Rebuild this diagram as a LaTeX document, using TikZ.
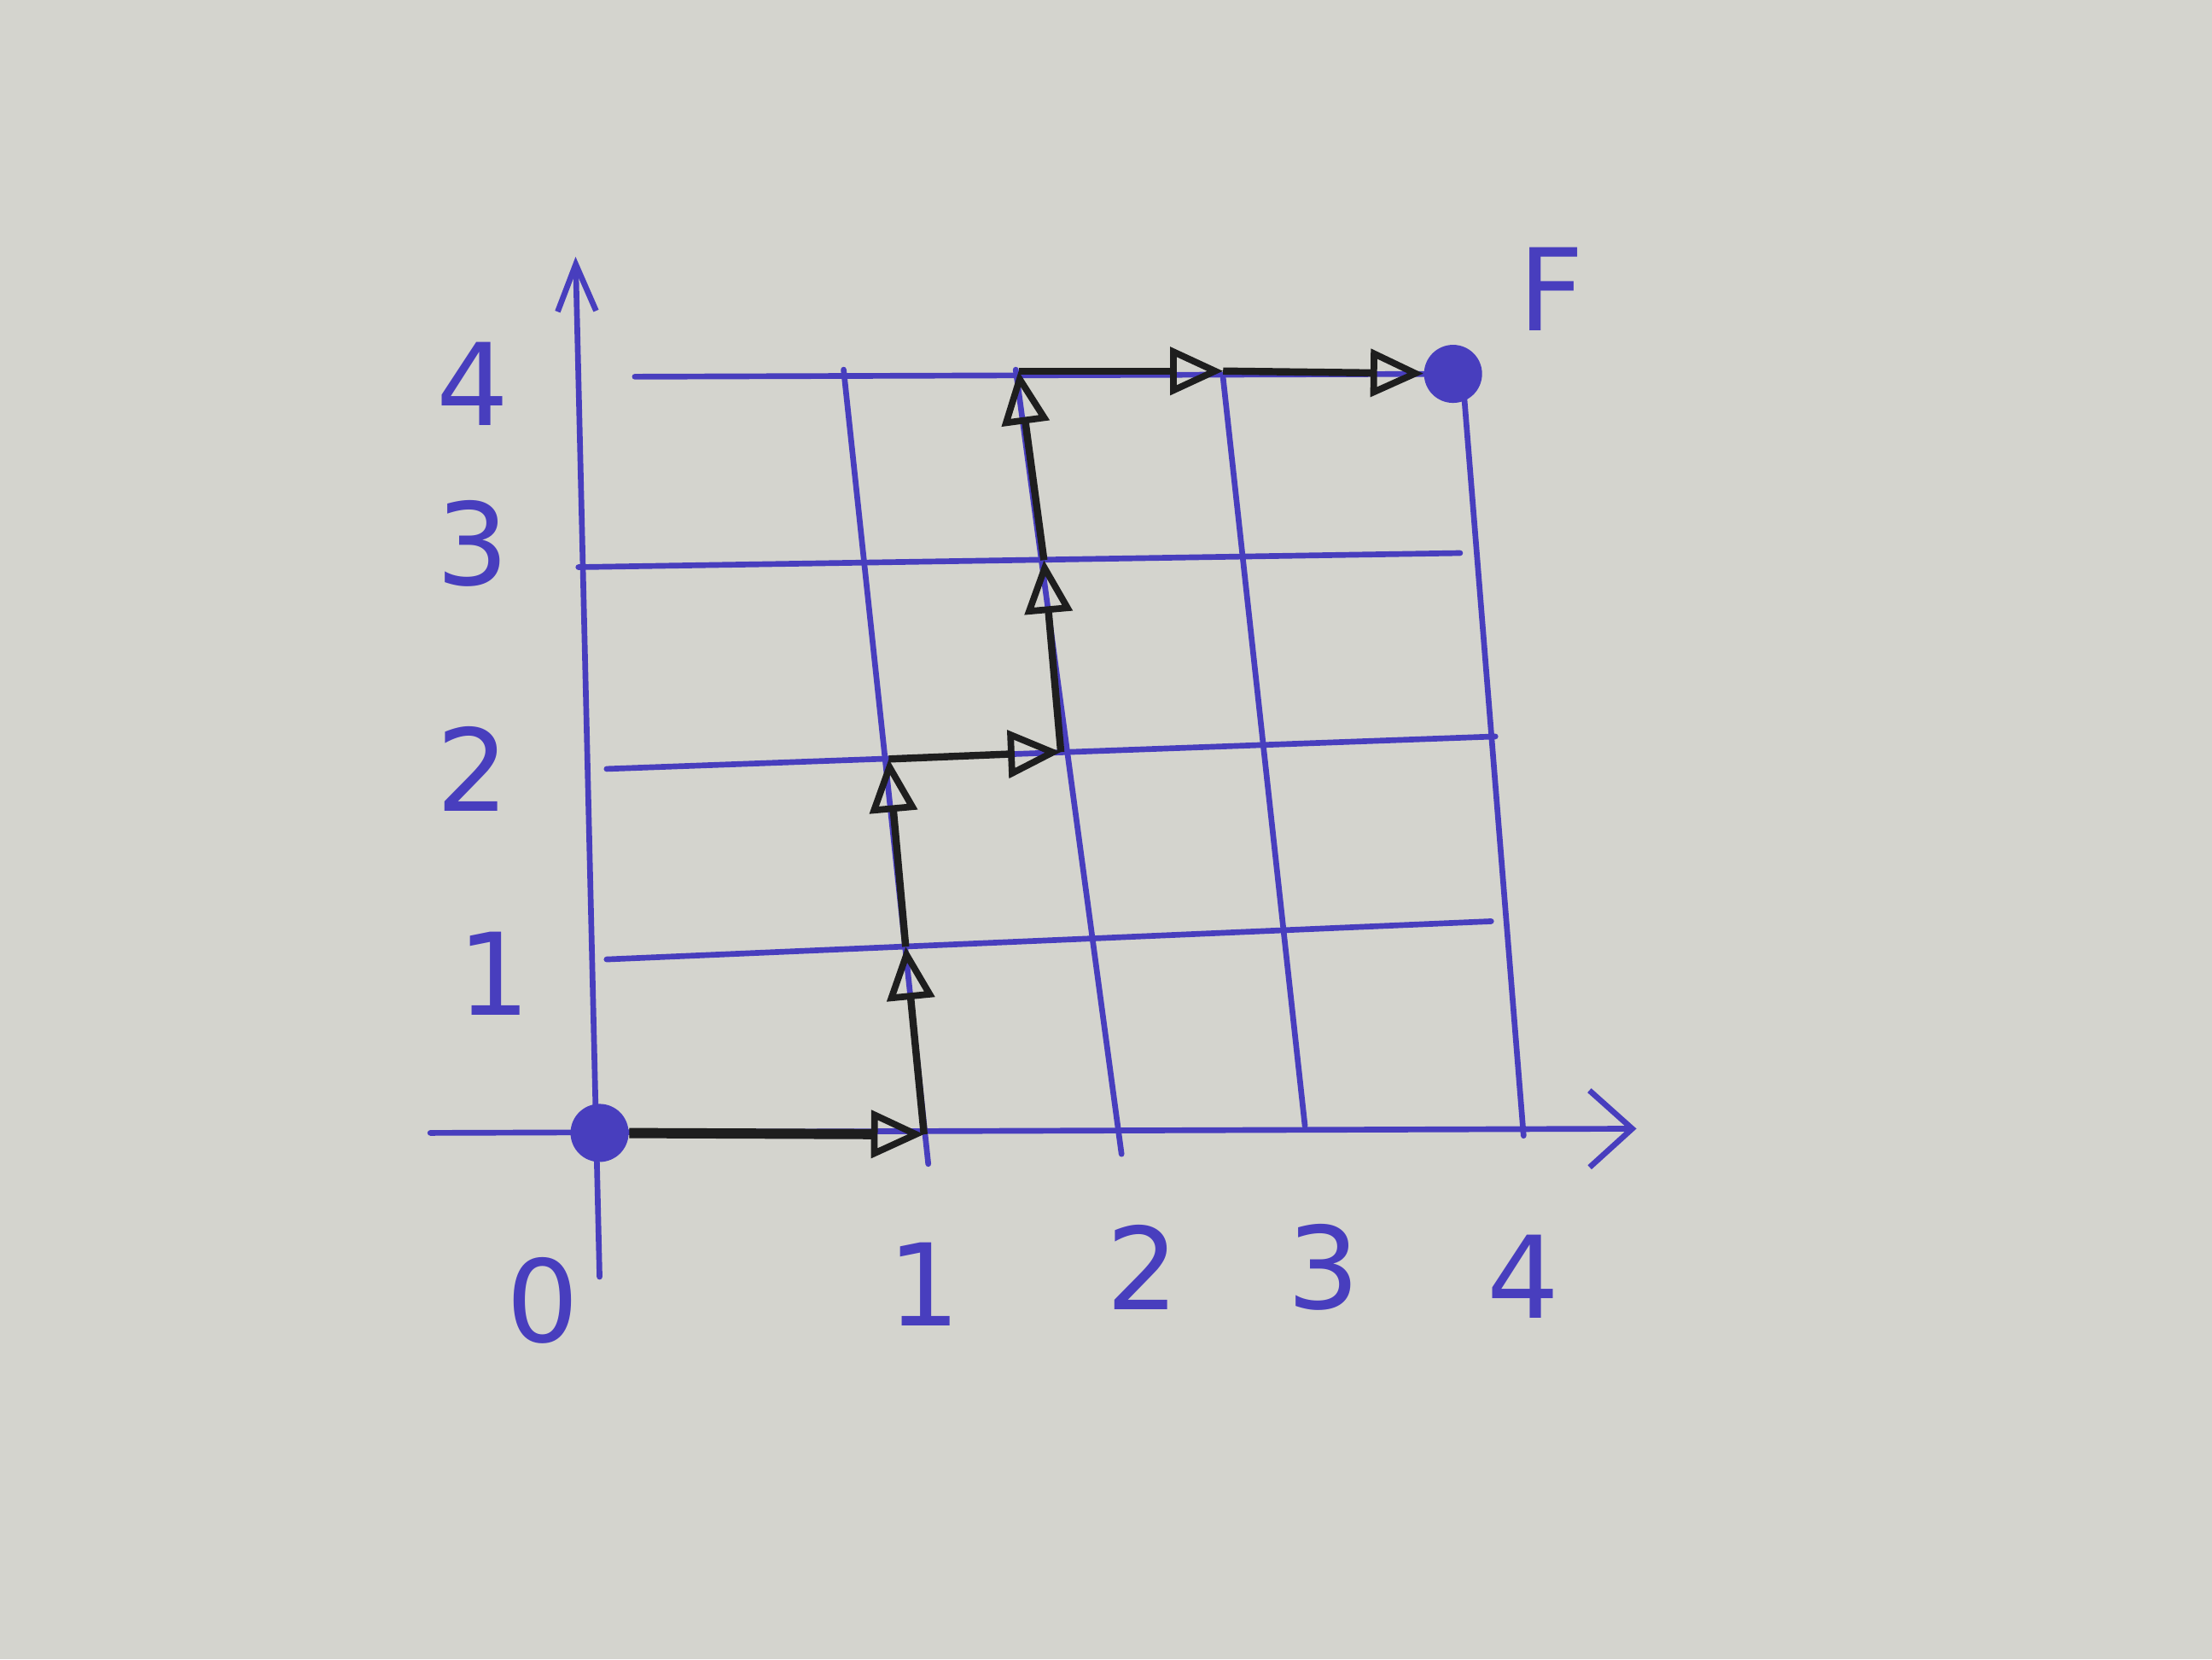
\documentclass[tikz,border=0pt]{standalone}
\usepackage{fontspec}
\setsansfont{DejaVu Sans}
\usetikzlibrary{arrows.meta}
\definecolor{paper}{RGB}{212,212,206}
\definecolor{ink}{RGB}{72,62,190}
\definecolor{pen}{RGB}{30,30,30}
\tikzset{
  gridline/.style={draw=ink, line width=1.9pt, line cap=round},
  axisline/.style={gridline, -{Straight Barb[length=0.5cm,width=0.9cm,line width=1.9pt]}},
  stepline/.style={draw=pen, line width=2.4pt, -{Triangle[open,length=0.62cm,width=0.55cm,line width=2.2pt]}},
  dot/.style={circle, fill=ink, minimum size=0.68cm, inner sep=0pt},
  lbl/.style={text=ink, font=\sffamily\fontsize{38}{44}\selectfont, inner sep=0pt}
}
\begin{document}
\begin{tikzpicture}[x=0.01653cm, y=-0.01653cm]
\fill[paper] (0,0) rectangle (1568,1176);
\useasboundingbox (0,0) rectangle (1568,1176);
% grid intersections (i = column, j = row)
\coordinate (g00) at (425,803); \coordinate (g10) at (655,804); \coordinate (g20) at (794,803); \coordinate (g30) at (925,801); \coordinate (g40) at (1080,800);
\coordinate (g01) at (422,680); \coordinate (g11) at (642,671); \coordinate (g21) at (775,665); \coordinate (g31) at (910,659); \coordinate (g41) at (1068,652);
\coordinate (g02) at (420,545); \coordinate (g12) at (630,538); \coordinate (g22) at (752,533); \coordinate (g32) at (895,528); \coordinate (g42) at (1058,522);
\coordinate (g03) at (417,402); \coordinate (g13) at (612,399); \coordinate (g23) at (740,397); \coordinate (g33) at (881,395); \coordinate (g43) at (1047,392);
\coordinate (g04) at (414,267); \coordinate (g14) at (598,266); \coordinate (g24) at (722,263); \coordinate (g34) at (867,263); \coordinate (g44) at (1030,265);
% axes
\coordinate (xs) at (305,803); \coordinate (xe) at (1160,800);
\coordinate (ys) at (425,905); \coordinate (ye) at (408,182);
\draw[axisline] (xs) -- (xe);
\draw[axisline, -{Straight Barb[length=0.55cm,width=0.45cm,line width=1.9pt]}] (ys) -- (ye);
% horizontal lines
\coordinate (h1a) at (430,680); \coordinate (h1b) at (1057,653);
\coordinate (h2a) at (430,545); \coordinate (h2b) at (1060,522);
\coordinate (h3a) at (410,402); \coordinate (h3b) at (1035,392);
\coordinate (h4a) at (450,267); \coordinate (h4b) at (1030,265);
\draw[gridline] (h1a) -- (h1b);
\draw[gridline] (h2a) -- (h2b);
\draw[gridline] (h3a) -- (h3b);
\draw[gridline] (h4a) -- (h4b);
% vertical lines
\coordinate (v1a) at (598,262); \coordinate (v1b) at (658,825);
\coordinate (v2a) at (720,262); \coordinate (v2b) at (795,818);
\coordinate (v3a) at (867,268); \coordinate (v3b) at (925,798);
\coordinate (v4a) at (1037,270); \coordinate (v4b) at (1080,805);
\draw[gridline] (v1a) -- (v1b);
\draw[gridline] (v2a) -- (v2b);
\draw[gridline] (v3a) -- (v3b);
\draw[gridline] (v4a) -- (v4b);
% start and finish
\node[dot] (start) at (g00) {};
\node[dot] (finish) at (g44) {};
% path
\draw[stepline, line width=3.4pt] (start) -- (g10);
\draw[stepline] (g10) -- (g11);
\draw[stepline] (g11) -- (g12);
\draw[stepline] (g12) -- (g22);
\draw[stepline] (g22) -- (g23);
\draw[stepline] (g23) -- (g24);
\draw[stepline] (g24) -- (g34);
\draw[stepline] (g34) -- (finish);
% labels
\node[lbl] (x0) at (385,922) {0};
\node[lbl] (x1) at (655,910) {1};
\node[lbl] (x2) at (810,898) {2};
\node[lbl] (x3) at (938,898) {3};
\node[lbl] (x4) at (1080,905) {4};
\node[lbl] (y1) at (350,690) {1};
\node[lbl] (y2) at (335,545) {2};
\node[lbl] (y3) at (335,385) {3};
\node[lbl] (y4) at (335,272) {4};
\node[lbl] (fl) at (1100,205) {F};
\end{tikzpicture}
\end{document}
